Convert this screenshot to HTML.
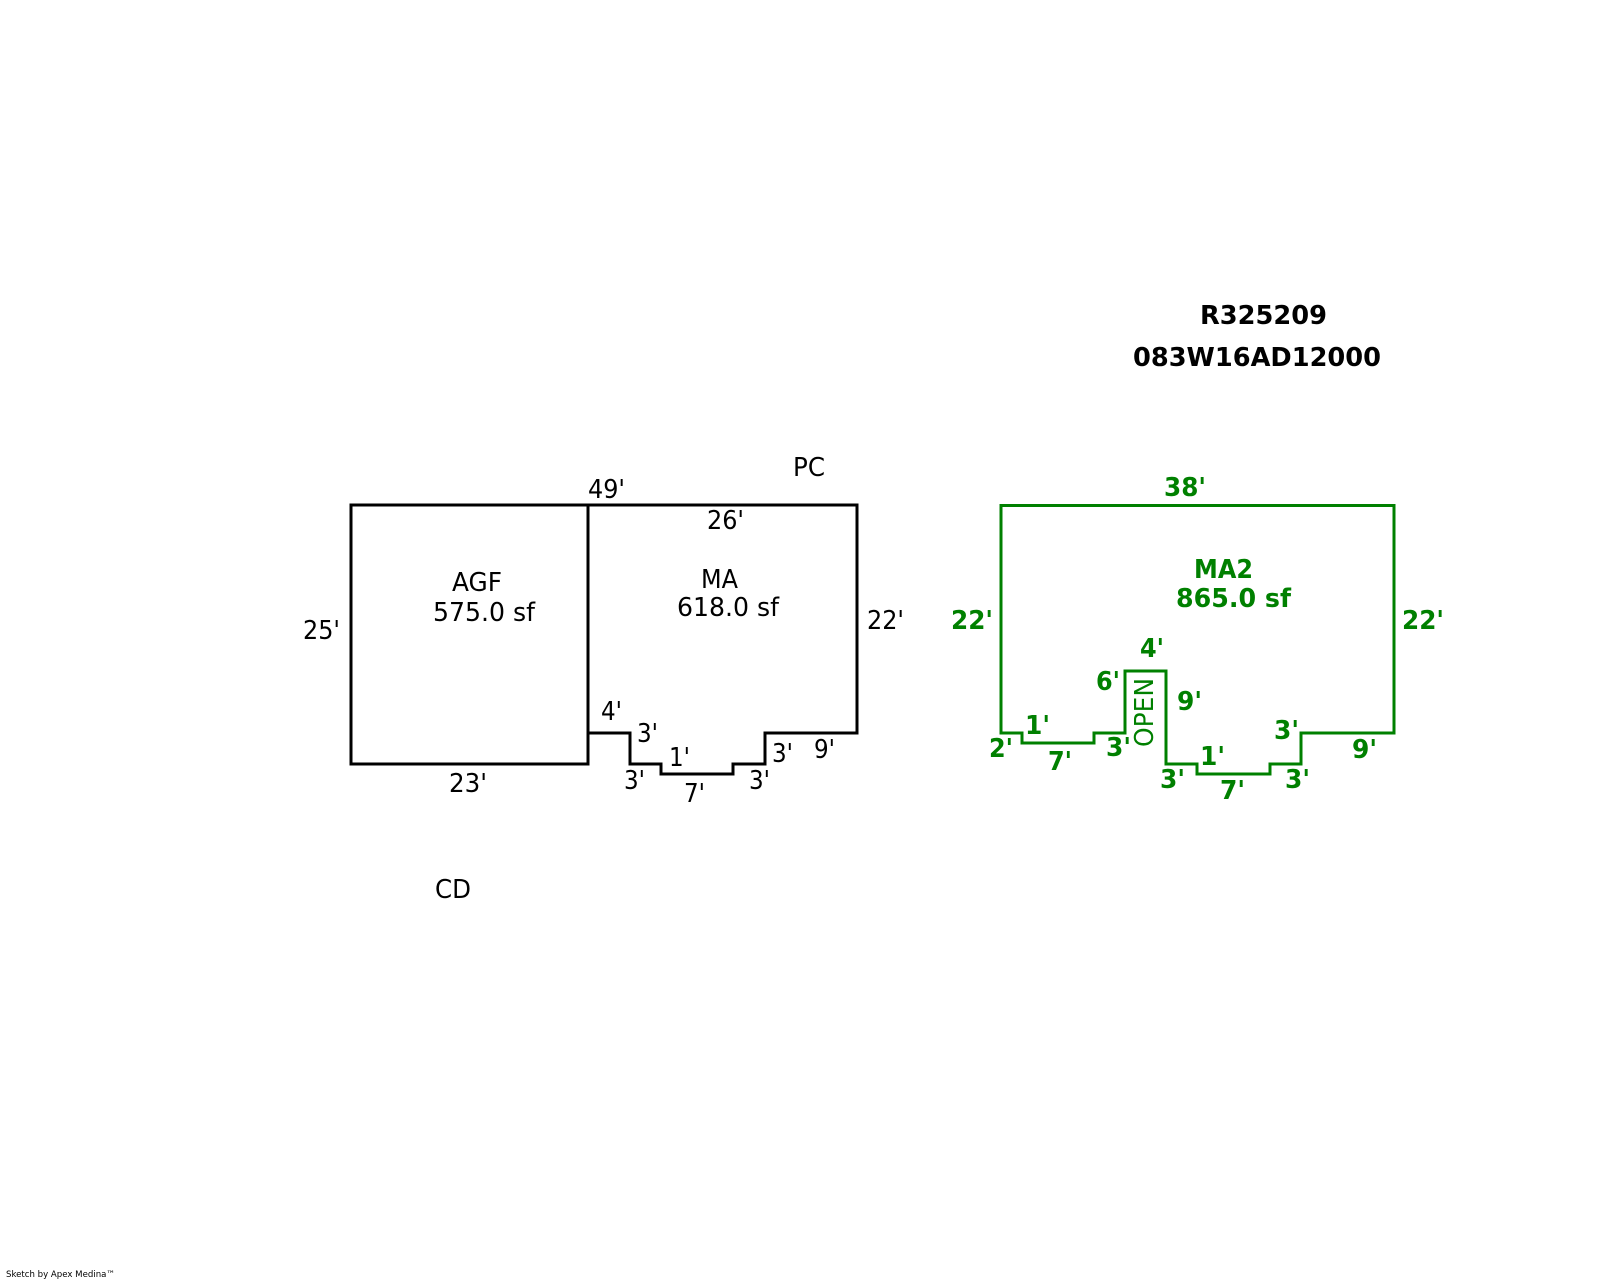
<!DOCTYPE html>
<html>
<head>
<meta charset="utf-8">
<style>
html,body{margin:0;padding:0;background:#fff;width:1600px;height:1280px;overflow:hidden}
svg{display:block}
text{font-family:"DejaVu Sans","Liberation Sans",sans-serif}
.k{font-size:26px;fill:#000}
.g{font-size:25.5px;fill:#008000;font-weight:bold}
.h{font-size:26px;fill:#000;font-weight:bold}
</style>
</head>
<body>
<svg width="1600" height="1280" viewBox="0 0 1600 1280" xmlns="http://www.w3.org/2000/svg">
<rect width="1600" height="1280" fill="#fff"/>
<g fill="none" stroke="#000" stroke-width="3" stroke-linejoin="miter" shape-rendering="crispEdges">
<path d="M588 505H857V733H765V764H733V774H661V764H630V733H588"/>
<path d="M351 505H588V764H351Z"/>
</g>
<path fill="none" stroke="#008000" stroke-width="3" d="M1001 505.5H1394V733H1301V764H1270V774H1197V764H1166V671H1125V733H1094V743H1022V733H1001Z"/>

<text class="k" x="793" y="476" textLength="32" lengthAdjust="spacingAndGlyphs">PC</text>
<text class="k" x="588" y="498" textLength="37" lengthAdjust="spacingAndGlyphs">49'</text>
<text class="k" x="707" y="529" textLength="37" lengthAdjust="spacingAndGlyphs">26'</text>
<text class="k" x="452" y="591" textLength="50" lengthAdjust="spacingAndGlyphs">AGF</text>
<text class="k" x="433" y="621" textLength="102" lengthAdjust="spacingAndGlyphs">575.0 sf</text>
<text class="k" x="701" y="588" textLength="37" lengthAdjust="spacingAndGlyphs">MA</text>
<text class="k" x="677" y="616" textLength="102" lengthAdjust="spacingAndGlyphs">618.0 sf</text>
<text class="k" x="867" y="629" textLength="37" lengthAdjust="spacingAndGlyphs">22'</text>
<text class="k" x="303" y="639" textLength="37" lengthAdjust="spacingAndGlyphs">25'</text>
<text class="k" x="601" y="720" textLength="21" lengthAdjust="spacingAndGlyphs">4'</text>
<text class="k" x="637" y="742" textLength="21" lengthAdjust="spacingAndGlyphs">3'</text>
<text class="k" x="669" y="766" textLength="21" lengthAdjust="spacingAndGlyphs">1'</text>
<text class="k" x="624" y="789" textLength="21" lengthAdjust="spacingAndGlyphs">3'</text>
<text class="k" x="749" y="789" textLength="21" lengthAdjust="spacingAndGlyphs">3'</text>
<text class="k" x="772" y="762" textLength="21" lengthAdjust="spacingAndGlyphs">3'</text>
<text class="k" x="814" y="758" textLength="21" lengthAdjust="spacingAndGlyphs">9'</text>
<text class="k" x="684" y="802" textLength="21" lengthAdjust="spacingAndGlyphs">7'</text>
<text class="k" x="449" y="792" textLength="38" lengthAdjust="spacingAndGlyphs">23'</text>
<text class="k" x="435" y="898" textLength="36" lengthAdjust="spacingAndGlyphs">CD</text>

<text class="h" x="1200" y="324" textLength="127" lengthAdjust="spacingAndGlyphs">R325209</text>
<text class="h" x="1133" y="366" textLength="248" lengthAdjust="spacingAndGlyphs">083W16AD12000</text>

<text class="g" x="1164" y="496" textLength="42" lengthAdjust="spacingAndGlyphs">38'</text>
<text class="g" x="1194" y="578" textLength="59" lengthAdjust="spacingAndGlyphs">MA2</text>
<text class="g" x="1176" y="607" textLength="115" lengthAdjust="spacingAndGlyphs">865.0 sf</text>
<text class="g" x="951" y="629" textLength="42" lengthAdjust="spacingAndGlyphs">22'</text>
<text class="g" x="1402" y="629" textLength="42" lengthAdjust="spacingAndGlyphs">22'</text>
<text class="g" x="1140" y="657" textLength="24" lengthAdjust="spacingAndGlyphs">4'</text>
<text class="g" x="1096" y="690" textLength="24" lengthAdjust="spacingAndGlyphs">6'</text>
<text class="g" x="1177" y="710" textLength="25" lengthAdjust="spacingAndGlyphs">9'</text>
<text class="g" x="1025" y="734" textLength="25" lengthAdjust="spacingAndGlyphs">1'</text>
<text class="g" x="989" y="757" textLength="24" lengthAdjust="spacingAndGlyphs">2'</text>
<text class="g" x="1048" y="770" textLength="24" lengthAdjust="spacingAndGlyphs">7'</text>
<text class="g" x="1106" y="756" textLength="25" lengthAdjust="spacingAndGlyphs">3'</text>
<text class="g" x="1200" y="765" textLength="25" lengthAdjust="spacingAndGlyphs">1'</text>
<text class="g" x="1160" y="788" textLength="25" lengthAdjust="spacingAndGlyphs">3'</text>
<text class="g" x="1220" y="799" textLength="25" lengthAdjust="spacingAndGlyphs">7'</text>
<text class="g" x="1285" y="788" textLength="25" lengthAdjust="spacingAndGlyphs">3'</text>
<text class="g" x="1274" y="739" textLength="25" lengthAdjust="spacingAndGlyphs">3'</text>
<text class="g" x="1352" y="758" textLength="25" lengthAdjust="spacingAndGlyphs">9'</text>

<text x="0" y="0" transform="translate(1153 747) rotate(-90)" font-size="26" fill="#008000" textLength="69" lengthAdjust="spacingAndGlyphs">OPEN</text>

<text x="6" y="1277" font-size="9" fill="#000" textLength="109" lengthAdjust="spacingAndGlyphs">Sketch by Apex Medina™</text>
</svg>
</body>
</html>
